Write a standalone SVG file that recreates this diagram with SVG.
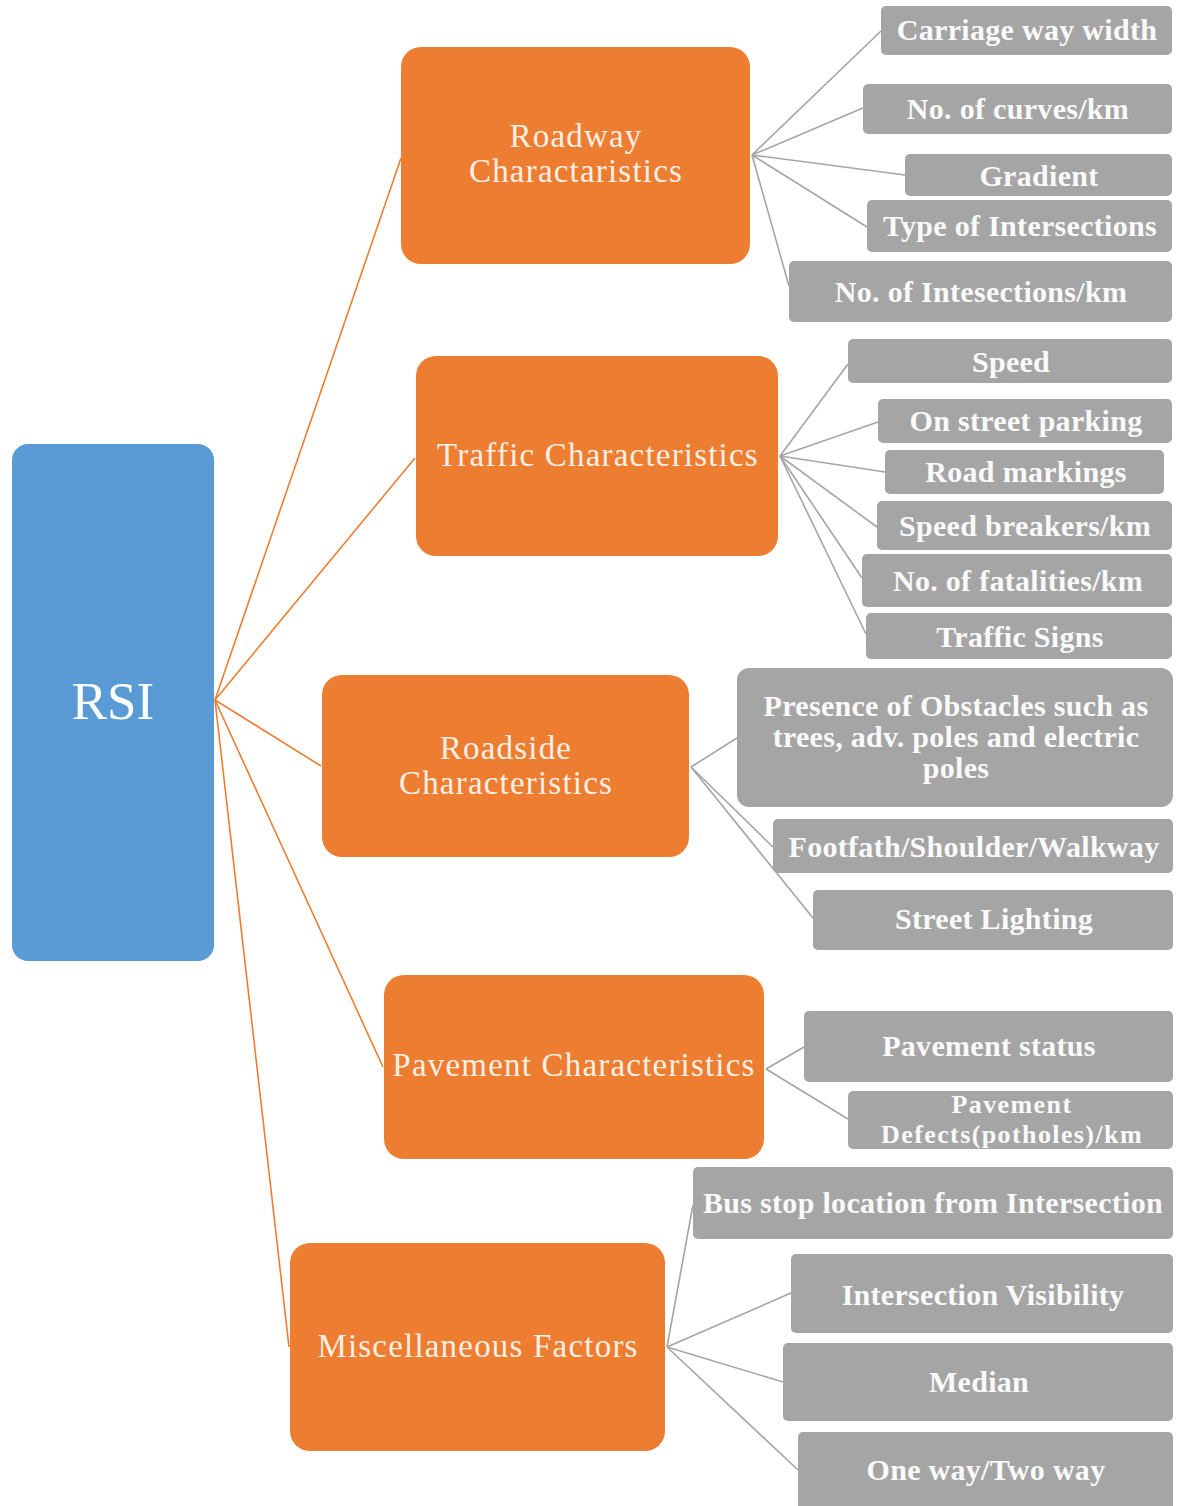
<svg xmlns="http://www.w3.org/2000/svg" width="1181" height="1506" viewBox="0 0 1181 1506">
<style>
.bg{fill:#ffffff}
.root{fill:#5b9bd5}
.cat{fill:#ed7d31}
.leaf{fill:#a5a5a5}
.rt{font-family:"Liberation Serif","Times New Roman",serif;fill:#ffffff;font-size:53px;text-anchor:middle}
.ct{font-family:"Liberation Serif","Times New Roman",serif;fill:#fbefe6;font-size:33px;letter-spacing:1.2px;text-anchor:middle}
.lt{font-family:"Liberation Serif","Times New Roman",serif;fill:#fafafa;font-size:30px;letter-spacing:0.3px;font-weight:bold;text-anchor:middle}
.sm{font-size:26px;letter-spacing:1.4px}
.oc{stroke:#ed7d31;stroke-width:1.6;fill:none}
.gc{stroke:#a5a5a5;stroke-width:1.6;fill:none}
</style>
<rect class="bg" x="0" y="0" width="1181" height="1506"/>
<g id="connectors">
<line class="oc" x1="215" y1="700" x2="401" y2="158"/>
<line class="oc" x1="215" y1="700" x2="415" y2="458"/>
<line class="oc" x1="215" y1="700" x2="321" y2="766"/>
<line class="oc" x1="215" y1="700" x2="383" y2="1067"/>
<line class="oc" x1="215" y1="700" x2="289" y2="1347"/>
<line class="gc" x1="752" y1="155" x2="881" y2="31"/>
<line class="gc" x1="752" y1="155" x2="863" y2="108"/>
<line class="gc" x1="752" y1="155" x2="905" y2="175"/>
<line class="gc" x1="752" y1="155" x2="867" y2="227"/>
<line class="gc" x1="752" y1="155" x2="789" y2="286"/>
<line class="gc" x1="780" y1="456" x2="848" y2="364"/>
<line class="gc" x1="780" y1="456" x2="878" y2="422"/>
<line class="gc" x1="780" y1="456" x2="885" y2="472"/>
<line class="gc" x1="780" y1="456" x2="877" y2="527"/>
<line class="gc" x1="780" y1="456" x2="862" y2="578"/>
<line class="gc" x1="780" y1="456" x2="866" y2="634"/>
<line class="gc" x1="691" y1="767" x2="737" y2="738"/>
<line class="gc" x1="691" y1="767" x2="773" y2="847"/>
<line class="gc" x1="691" y1="767" x2="813" y2="918"/>
<line class="gc" x1="766" y1="1069" x2="804" y2="1047"/>
<line class="gc" x1="766" y1="1069" x2="848" y2="1119"/>
<line class="gc" x1="667" y1="1347" x2="693" y2="1205"/>
<line class="gc" x1="667" y1="1347" x2="791" y2="1293"/>
<line class="gc" x1="667" y1="1347" x2="783" y2="1382"/>
<line class="gc" x1="667" y1="1347" x2="798" y2="1470"/>
</g>
<g id="rsi">
<rect class="root" x="12" y="444" width="202" height="517" rx="16"/>
<text class="rt" x="113" y="719">RSI</text>
</g>
<g id="roadway">
<rect class="cat" x="401" y="47" width="349" height="217" rx="20"/>
<text class="ct" x="576" y="147">Roadway</text>
<text class="ct" x="576" y="182">Charactaristics</text>
</g>
<g id="traffic">
<rect class="cat" x="416" y="356" width="362" height="200" rx="20"/>
<text class="ct" x="598" y="466">Traffic Characteristics</text>
</g>
<g id="roadside">
<rect class="cat" x="322" y="675" width="367" height="182" rx="20"/>
<text class="ct" x="506" y="759">Roadside</text>
<text class="ct" x="506" y="794">Characteristics</text>
</g>
<g id="pavement">
<rect class="cat" x="384" y="975" width="380" height="184" rx="20"/>
<text class="ct" x="574" y="1076">Pavement Characteristics</text>
</g>
<g id="misc">
<rect class="cat" x="290" y="1243" width="375" height="208" rx="20"/>
<text class="ct" x="478" y="1357">Miscellaneous Factors</text>
</g>
<g id="carriage">
<rect class="leaf" x="881" y="6" width="291" height="49" rx="5"/>
<text class="lt" x="1027" y="40">Carriage way width</text>
</g>
<g id="curves">
<rect class="leaf" x="863" y="84" width="309" height="50" rx="5"/>
<text class="lt" x="1018" y="119">No. of curves/km</text>
</g>
<g id="gradient">
<rect class="leaf" x="905" y="154" width="267" height="42" rx="5"/>
<text class="lt" x="1039" y="186">Gradient</text>
</g>
<g id="type-int">
<rect class="leaf" x="867" y="200" width="305" height="52" rx="5"/>
<text class="lt" x="1020" y="236">Type of Intersections</text>
</g>
<g id="no-int">
<rect class="leaf" x="789" y="261" width="383" height="61" rx="5"/>
<text class="lt" x="981" y="302">No. of Intesections/km</text>
</g>
<g id="speed">
<rect class="leaf" x="848" y="339" width="324" height="44" rx="5"/>
<text class="lt" x="1011" y="372">Speed</text>
</g>
<g id="parking">
<rect class="leaf" x="878" y="399" width="294" height="44" rx="5"/>
<text class="lt" x="1026" y="431">On street parking</text>
</g>
<g id="markings">
<rect class="leaf" x="885" y="450" width="279" height="44" rx="5"/>
<text class="lt" x="1026" y="482">Road markings</text>
</g>
<g id="breakers">
<rect class="leaf" x="877" y="501" width="295" height="49" rx="5"/>
<text class="lt" x="1025" y="536">Speed breakers/km</text>
</g>
<g id="fatalities">
<rect class="leaf" x="862" y="554" width="310" height="53" rx="5"/>
<text class="lt" x="1018" y="591">No. of fatalities/km</text>
</g>
<g id="signs">
<rect class="leaf" x="866" y="613" width="306" height="46" rx="5"/>
<text class="lt" x="1020" y="647">Traffic Signs</text>
</g>
<g id="obstacles">
<rect class="leaf" x="737" y="668" width="436" height="139" rx="12"/>
<text class="lt" x="956" y="716">Presence of Obstacles such as</text>
<text class="lt" x="956" y="747">trees, adv. poles and electric</text>
<text class="lt" x="956" y="778">poles</text>
</g>
<g id="footpath">
<rect class="leaf" x="773" y="819" width="400" height="54" rx="5"/>
<text class="lt" x="974" y="857">Footfath/Shoulder/Walkway</text>
</g>
<g id="lighting">
<rect class="leaf" x="813" y="890" width="360" height="60" rx="5"/>
<text class="lt" x="994" y="929">Street Lighting</text>
</g>
<g id="pav-status">
<rect class="leaf" x="804" y="1011" width="369" height="71" rx="5"/>
<text class="lt" x="989" y="1056">Pavement status</text>
</g>
<g id="pav-defects">
<rect class="leaf" x="848" y="1091" width="325" height="58" rx="5"/>
<text class="lt sm" x="1012" y="1113">Pavement</text>
<text class="lt sm" x="1012" y="1143">Defects(potholes)/km</text>
</g>
<g id="bus-stop">
<rect class="leaf" x="693" y="1167" width="480" height="72" rx="5"/>
<text class="lt" x="933" y="1213">Bus stop location from Intersection</text>
</g>
<g id="visibility">
<rect class="leaf" x="791" y="1254" width="382" height="79" rx="5"/>
<text class="lt" x="983" y="1305">Intersection Visibility</text>
</g>
<g id="median">
<rect class="leaf" x="783" y="1343" width="390" height="78" rx="5"/>
<text class="lt" x="979" y="1392">Median</text>
</g>
<g id="one-way">
<rect class="leaf" x="798" y="1432" width="375" height="80" rx="5"/>
<text class="lt" x="986" y="1480">One way/Two way</text>
</g>
</svg>
